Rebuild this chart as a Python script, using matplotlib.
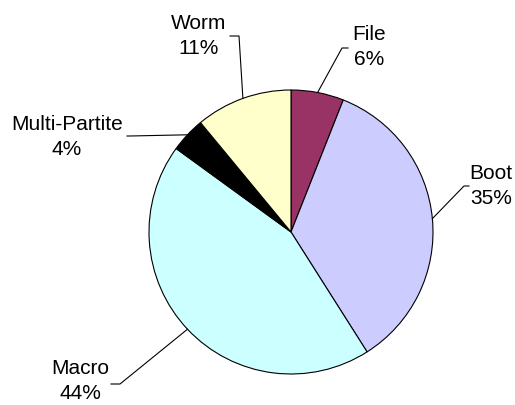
import numpy as np
import matplotlib.pyplot as plt

labels = ['File', 'Boot', 'Macro', 'Multi-Partite', 'Worm']
shares = [6, 35, 44, 4, 11]
colors = ['#993366', '#CCCCFF', '#CCFFFF', '#000000', '#FFFFCC']

W, H = 515, 406
fig = plt.figure(figsize=(W / 100, H / 100), dpi=100)
ax = fig.add_axes([0, 0, 1, 1])

cx, cy, r = 291, H - 233, 142
wedges, _ = ax.pie(shares, colors=colors, startangle=90, counterclock=False,
                   center=(cx, cy), radius=r, frame=True,
                   wedgeprops=dict(edgecolor='black', linewidth=0.8))
ax.set_xlim(0, W)
ax.set_ylim(0, H)
ax.set_aspect('equal')
ax.axis('off')

# label placement in pixels from the top-left: text centre, elbow, line end
layout = {
    'File': ((369, 47), (342, 49), (348, 49)),
    'Boot': ((491, 186), (464, 187), (469, 187)),
    'Macro': ((80, 381), (120, 385), (111, 385)),
    'Multi-Partite': ((67, 137), (130, 137), (127, 137)),
    'Worm': ((199, 36), (239, 37), (230, 37)),
}

for w, lab, val in zip(wedges, labels, shares):
    mid = np.deg2rad((w.theta1 + w.theta2) / 2)
    px, py = cx + r * np.cos(mid), cy + r * np.sin(mid)
    (tx, ty), (ex, ey), (lx, ly) = layout[lab]
    ax.plot([px, ex, lx], [py, H - ey, H - ly], color='black', lw=0.8)
    ax.text(tx, H - ty, f'{lab}\n{val}%', ha='center', va='center',
            family='Liberation Sans', fontsize=15, linespacing=1.42)

fig.savefig('out.png', dpi=100)
